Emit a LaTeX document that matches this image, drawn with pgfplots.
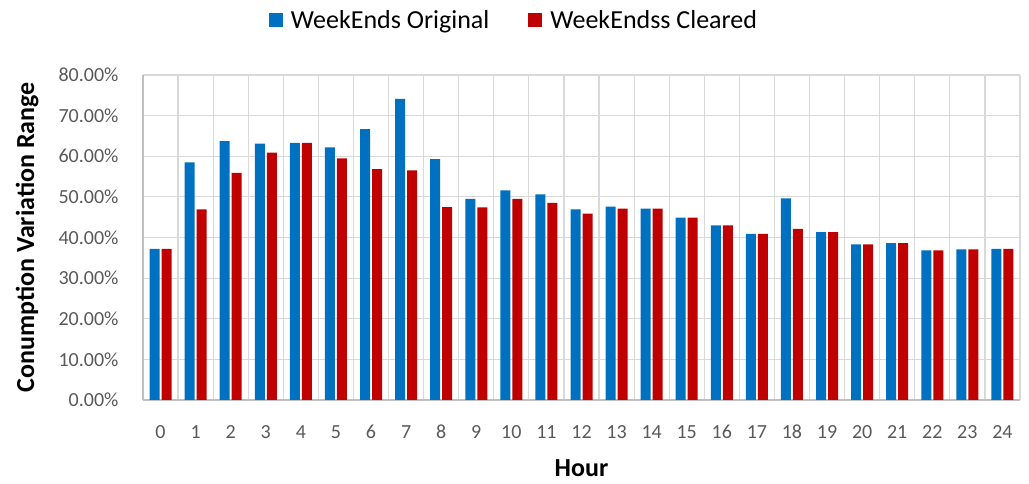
\documentclass[border=0pt]{standalone}
\usepackage{fontspec}
\setmainfont{Carlito}
\usepackage{pgfplots}
\pgfplotsset{compat=1.18}
\definecolor{cblue}{HTML}{0070C0}
\definecolor{cred}{HTML}{C00000}
\definecolor{cgrid}{HTML}{D9D9D9}
\definecolor{caxis}{HTML}{BFBFBF}
\definecolor{ctick}{HTML}{595959}
\begin{document}
\begin{tikzpicture}
\path[use as bounding box] (-143pt,-84pt) rectangle (886pt,400pt);
\begin{axis}[
  at={(0pt,0pt)}, anchor=south west,
  scale only axis, width=877pt, height=325pt,
  ybar, bar width=10pt,
  xmin=-0.5, xmax=24.5, ymin=0, ymax=80,
  xtick={0,...,24},
  minor xtick={-0.5,0.5,...,24.5},
  ytick={0,10,...,80},
  xmajorgrids=false, xminorgrids=true, ymajorgrids=true,
  grid style={draw=cgrid, line width=1.2pt},
  minor grid style={draw=cgrid, line width=1.2pt},
  major tick length=0pt, minor tick length=0pt,
  axis line style={draw=caxis, line width=1.4pt},
  axis x line*=bottom, axis y line*=left,
  x axis line style={-}, y axis line style={-},
  /pgf/number format/assume math mode=true,
  yticklabel={\pgfmathprintnumber[fixed,fixed zerofill,precision=2]{\tick}\%},
  xticklabel style={font=\fontsize{20}{22}\selectfont, text=ctick, anchor=center, yshift=-32pt},
  yticklabel style={font=\fontsize{20}{22}\selectfont, text=ctick, anchor=east, xshift=-21pt},
  xlabel={\textbf{Hour}},
  xlabel style={font=\fontsize{26}{28}\selectfont, at={(axis description cs:0.5,-0.209)}, anchor=center},
  ylabel={\textbf{Conumption Variation Range}},
  ylabel style={font=\fontsize{26}{28}\selectfont, at={(axis description cs:-0.132,0.5)}, anchor=center, rotate=0},
  legend columns=2,
  legend style={draw=none, at={(0.423,1.169)}, anchor=center,
    font=\fontsize{26}{28}\selectfont, inner sep=0pt,
    /tikz/every odd column/.append style={column sep=6pt},
    /tikz/every even column/.append style={column sep=37pt}},
  legend image code/.code={\fill[#1] (0pt,-7pt) rectangle (14pt,7pt);},
]
\addplot[fill=cblue, draw=none] coordinates {
(0,37.2) (1,58.5) (2,63.7) (3,63.1) (4,63.3) (5,62.2) (6,66.7) (7,74.1)
(8,59.3) (9,49.5) (10,51.6) (11,50.6) (12,46.9) (13,47.6) (14,47.1)
(15,44.9) (16,43.0) (17,40.9) (18,49.6) (19,41.3) (20,38.3) (21,38.6)
(22,36.8) (23,37.1) (24,37.2)};
\addplot[fill=cred, draw=none] coordinates {
(0,37.2) (1,46.9) (2,55.9) (3,60.9) (4,63.3) (5,59.5) (6,56.8) (7,56.5)
(8,47.5) (9,47.4) (10,49.5) (11,48.5) (12,45.9) (13,47.1) (14,47.1)
(15,44.9) (16,43.0) (17,40.9) (18,42.1) (19,41.3) (20,38.3) (21,38.6)
(22,36.8) (23,37.1) (24,37.2)};
\legend{WeekEnds Original, WeekEndss Cleared}
\end{axis}
\end{tikzpicture}
\end{document}
